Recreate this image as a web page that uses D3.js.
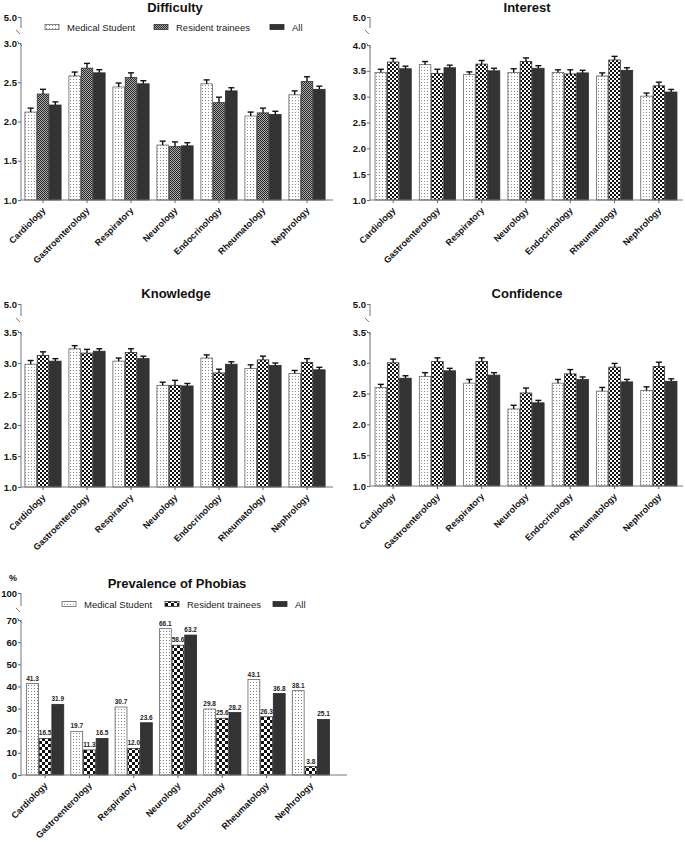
<!DOCTYPE html>
<html><head><meta charset="utf-8">
<script src="https://cdn.jsdelivr.net/npm/d3@7"></script>
<style>body{margin:0;background:#fff}svg{display:block}text{font-family:Arial,"Liberation Sans",sans-serif}</style>
</head><body>
<svg id="c" width="685" height="841"></svg>
<script>
const categories = ["Cardiology","Gastroenterology","Respiratory","Neurology","Endocrinology","Rheumatology","Nephrology"];
const seriesNames = ["Medical Student","Resident trainees","All"];

const difficultyMS  = [2.12, 2.58, 2.44, 1.70, 2.48, 2.07, 2.34];
const difficultyRT  = [2.35, 2.68, 2.56, 1.68, 2.24, 2.11, 2.51];
const difficultyAll = [2.21, 2.62, 2.48, 1.69, 2.39, 2.09, 2.41];
const difficultySE  = [[0.05,0.05,0.05,0.05,0.05,0.05,0.05],[0.06,0.06,0.06,0.06,0.07,0.06,0.06],[0.04,0.04,0.04,0.04,0.04,0.04,0.04]];

const interestMS  = [3.47, 3.62, 3.43, 3.47, 3.47, 3.40, 3.01];
const interestRT  = [3.67, 3.45, 3.63, 3.68, 3.44, 3.71, 3.21];
const interestAll = [3.54, 3.56, 3.50, 3.55, 3.46, 3.51, 3.09];
const interestSE  = [[0.06,0.06,0.05,0.07,0.05,0.06,0.06],[0.07,0.08,0.07,0.07,0.08,0.07,0.07],[0.05,0.05,0.05,0.05,0.05,0.05,0.05]];

const knowledgeMS  = [2.98, 3.23, 3.03, 2.64, 3.08, 2.91, 2.83];
const knowledgeRT  = [3.12, 3.16, 3.17, 2.64, 2.84, 3.05, 3.01];
const knowledgeAll = [3.03, 3.19, 3.07, 2.63, 2.98, 2.96, 2.89];
const knowledgeSE  = [[0.06,0.05,0.05,0.05,0.05,0.06,0.05],[0.06,0.06,0.06,0.08,0.06,0.06,0.06],[0.04,0.04,0.04,0.04,0.04,0.04,0.04]];

const confidenceMS  = [2.60, 2.78, 2.67, 2.25, 2.67, 2.54, 2.55];
const confidenceRT  = [3.00, 3.02, 3.02, 2.51, 2.82, 2.93, 2.94];
const confidenceAll = [2.75, 2.87, 2.80, 2.35, 2.73, 2.69, 2.70];
const confidenceSE  = [[0.05,0.06,0.06,0.06,0.06,0.06,0.06],[0.06,0.06,0.06,0.08,0.07,0.06,0.07],[0.04,0.04,0.04,0.04,0.04,0.04,0.04]];

const phobiaMS  = [41.3, 19.7, 30.7, 66.1, 29.8, 43.1, 38.1];
const phobiaRT  = [16.5, 11.3, 12.0, 58.6, 25.6, 26.3, 3.8];
const phobiaAll = [31.9, 16.5, 23.6, 63.2, 28.2, 36.8, 25.1];

const scoreTicks = [1.0, 1.5, 2.0, 2.5, 3.0, 3.5, 4.0];
const phobiaTicks = [0, 10, 20, 30, 40, 50, 60, 70];

const svg = d3.select("#c");
const defs = svg.append("defs");

// patterns
const dots = defs.append("pattern").attr("id","dots").attr("patternUnits","userSpaceOnUse").attr("width",3).attr("height",3);
dots.append("rect").attr("width",3).attr("height",3).attr("fill","#fff");
dots.append("rect").attr("x",1).attr("y",1).attr("width",1).attr("height",1).attr("fill","#8a8a8a");

function checker(id, s, dark, light){
  const p = defs.append("pattern").attr("id",id).attr("patternUnits","userSpaceOnUse").attr("width",2*s).attr("height",2*s);
  p.append("rect").attr("width",2*s).attr("height",2*s).attr("fill",light);
  p.append("rect").attr("width",s).attr("height",s).attr("fill",dark);
  p.append("rect").attr("x",s).attr("y",s).attr("width",s).attr("height",s).attr("fill",dark);
}
checker("chkFine", 1, "#2a2a2a", "#a8a8a8");
checker("chk", 2, "#111", "#fff");
checker("chkBig", 3, "#111", "#fff");

function drawPanel(cfg){
  const g = svg.append("g");
  const x = d3.scaleBand().domain(categories).range(cfg.xRange).padding(0);
  const x1 = d3.scaleBand().domain(seriesNames).range([-cfg.groupW/2, cfg.groupW/2]).padding(0);
  const y = d3.scaleLinear().domain([cfg.lo, cfg.hiLow]).range([cfg.yBot, cfg.yLowTop]);
  const yUp = d3.scaleLinear().domain([cfg.hiLow, cfg.top]).range([cfg.yBreakUp + 6, cfg.yTop]);

  // title
  g.append("text").attr("x",cfg.titleX).attr("y",cfg.titleY).attr("text-anchor","middle")
    .attr("font-size",13).attr("font-weight","bold").attr("fill","#111").text(cfg.title);

  const fills = [ "url(#dots)", cfg.rtFill, "#333" ];
  const strokes = ["#666", "#333", "#2a2a2a"];
  const vals = cfg.values;

  // bars
  seriesNames.forEach((s, si) => {
    g.append("g").selectAll("rect").data(categories).join("rect")
      .attr("x", c => x(c) + x.bandwidth()/2 + x1(s) + 0.4)
      .attr("width", x1.bandwidth() - 0.8)
      .attr("y", (c,i) => y(vals[si][i]))
      .attr("height", (c,i) => y(cfg.lo) - y(vals[si][i]))
      .attr("fill", fills[si]).attr("stroke", strokes[si]).attr("stroke-width", 0.8);
  });

  // error bars
  if (cfg.se){
    seriesNames.forEach((s, si) => {
      const eg = g.append("g").attr("stroke","#111").attr("stroke-width",1.4).attr("fill","none");
      categories.forEach((c,i) => {
        const cx = x(c) + x.bandwidth()/2 + x1(s) + x1.bandwidth()/2;
        const v = vals[si][i], e = cfg.se[si][i];
        eg.append("line").attr("x1",cx).attr("x2",cx).attr("y1",y(v)).attr("y2",y(v+e));
        eg.append("line").attr("x1",cx-3).attr("x2",cx+3).attr("y1",y(v+e)).attr("y2",y(v+e));
      });
    });
  }

  // value labels
  if (cfg.labels){
    seriesNames.forEach((s, si) => {
      g.append("g").selectAll("text").data(categories).join("text")
        .attr("x", c => x(c) + x.bandwidth()/2 + x1(s) + x1.bandwidth()/2)
        .attr("y", (c,i) => y(vals[si][i]) - 3)
        .attr("text-anchor","middle").attr("font-size",6.5).attr("font-weight","bold").attr("fill","#222")
        .text((c,i) => vals[si][i].toFixed(1));
    });
  }

  // y axis lower
  const axL = g.append("g").attr("transform",`translate(${cfg.ax},0)`)
    .call(d3.axisLeft(y).tickValues(cfg.ticks).tickFormat(cfg.fmt).tickSize(3).tickSizeOuter(0));
  axL.select(".domain").remove();
  const axU = g.append("g").attr("transform",`translate(${cfg.ax},0)`)
    .call(d3.axisLeft(yUp).tickValues([cfg.top]).tickFormat(cfg.fmt).tickSize(3).tickSizeOuter(0));
  axU.select(".domain").remove();
  [axL, axU].forEach(a => {
    a.selectAll("line").attr("stroke","#666");
    a.selectAll("text").attr("font-size",9.5).attr("font-weight","bold").attr("fill","#111").attr("font-family","Arial, 'Liberation Sans', sans-serif").attr("x",-4);
  });
  // broken axis lines
  const ag = g.append("g").attr("stroke","#777").attr("stroke-width",1).attr("fill","none");
  ag.append("line").attr("x1",cfg.ax).attr("x2",cfg.ax).attr("y1",cfg.yTop).attr("y2",cfg.yBreakUp);
  ag.append("line").attr("x1",cfg.ax-5).attr("x2",cfg.ax-1).attr("y1",cfg.yBreakUp+2).attr("y2",cfg.yBreakUp+6);
  ag.append("line").attr("x1",cfg.ax-4).attr("x2",cfg.ax+1).attr("y1",cfg.yLowTop-2).attr("y2",cfg.yLowTop+3);
  ag.append("line").attr("x1",cfg.ax).attr("x2",cfg.ax).attr("y1",cfg.yLowTop).attr("y2",cfg.yBot);

  // x axis
  const axX = g.append("g").attr("transform",`translate(0,${cfg.yBot})`)
    .call(d3.axisBottom(x).tickSize(3).tickSizeOuter(0));
  axX.select(".domain").remove();
  ag.append("line").attr("x1",cfg.ax).attr("x2",cfg.axEnd).attr("y1",cfg.yBot).attr("y2",cfg.yBot);
  axX.selectAll("line").attr("stroke","#666");
  axX.selectAll("text").attr("font-size",9).attr("font-weight","bold").attr("fill","#111")
    .attr("font-family","Arial, 'Liberation Sans', sans-serif")
    .attr("text-anchor","end").attr("dy",null).attr("y",0)
    .attr("transform","translate(3,11) rotate(-45)");

  // legend
  if (cfg.legend){
    const lg = g.append("g");
    seriesNames.forEach((s, si) => {
      const lx = cfg.legend.xs[si];
      lg.append("rect").attr("x",lx).attr("y",cfg.legend.y-2.5).attr("width",14).attr("height",5)
        .attr("fill",fills[si]).attr("stroke",strokes[si]).attr("stroke-width",0.8);
      lg.append("text").attr("x",lx+22).attr("y",cfg.legend.y+3.5).attr("font-size",9.5).attr("fill","#222").text(s);
    });
  }
  if (cfg.unit){
    g.append("text").attr("x",cfg.unit[0]).attr("y",cfg.unit[1]).attr("font-size",9).attr("font-weight","bold").attr("fill","#111").text("%");
  }
}

const f1 = d3.format(".1f");
drawPanel({title:"Difficulty", titleX:175, titleY:12, ax:21, axEnd:333, xRange:[21,329], groupW:37,
  lo:1, hiLow:3, top:5, yTop:17, yBreakUp:28, yLowTop:43, yBot:200, ticks:scoreTicks.filter(t=>t<=3), fmt:f1,
  values:[difficultyMS, difficultyRT, difficultyAll], se:difficultySE, rtFill:"url(#chkFine)",
  legend:{y:27, xs:[45,154,270]}});
drawPanel({title:"Interest", titleX:527, titleY:12, ax:370, axEnd:683, xRange:[371,681], groupW:37,
  lo:1, hiLow:4, top:5, yTop:17, yBreakUp:28, yLowTop:45, yBot:200, ticks:scoreTicks, fmt:f1,
  values:[interestMS, interestRT, interestAll], se:interestSE, rtFill:"url(#chk)"});
drawPanel({title:"Knowledge", titleX:176, titleY:298, ax:21, axEnd:333, xRange:[21,329], groupW:37,
  lo:1, hiLow:3.5, top:5, yTop:304, yBreakUp:316, yLowTop:332, yBot:487, ticks:scoreTicks.filter(t=>t<=3.5), fmt:f1,
  values:[knowledgeMS, knowledgeRT, knowledgeAll], se:knowledgeSE, rtFill:"url(#chk)"});
drawPanel({title:"Confidence", titleX:527, titleY:298, ax:370, axEnd:683, xRange:[371,681], groupW:37,
  lo:1, hiLow:3.5, top:5, yTop:304, yBreakUp:316, yLowTop:332, yBot:486, ticks:scoreTicks.filter(t=>t<=3.5), fmt:f1,
  values:[confidenceMS, confidenceRT, confidenceAll], se:confidenceSE, rtFill:"url(#chk)"});
drawPanel({title:"Prevalence of Phobias", titleX:177, titleY:588, ax:21, axEnd:347, xRange:[23,333], groupW:38,
  lo:0, hiLow:70, top:100, yTop:593, yBreakUp:606, yLowTop:620, yBot:775, ticks:phobiaTicks, fmt:d3.format("d"),
  values:[phobiaMS, phobiaRT, phobiaAll], labels:true, rtFill:"url(#chkBig)",
  legend:{y:604, xs:[62,165,273]}, unit:[9,581]});
</script>
</body></html>
